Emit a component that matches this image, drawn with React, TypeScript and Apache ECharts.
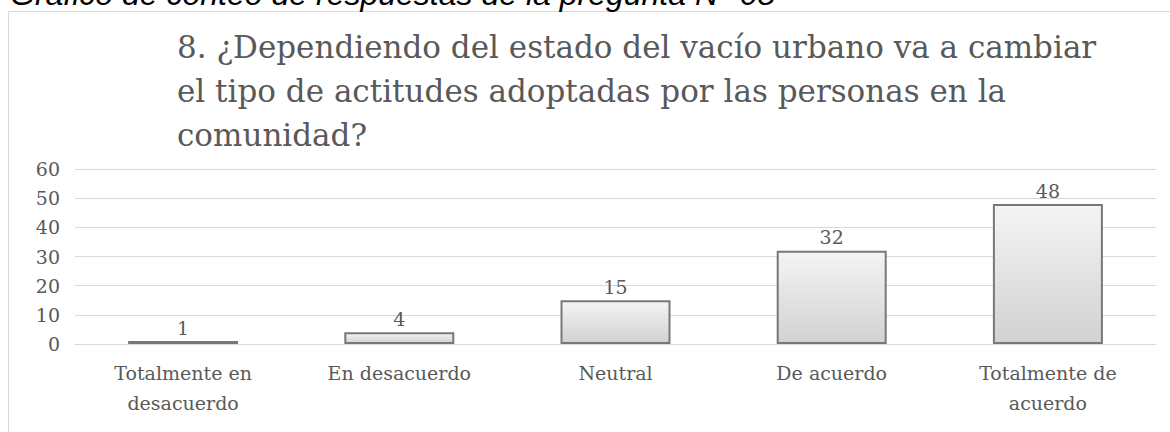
import React, { useEffect, useRef } from "react";
import * as echarts from "echarts";

const caption = "Gráfico de conteo de respuestas de la pregunta N° 08";
const titleLines = [
  "8. ¿Dependiendo del estado del vacío urbano va a cambiar",
  "el tipo de actitudes adoptadas por las personas en la",
  "comunidad?",
];
const categories = [
  "Totalmente en\ndesacuerdo",
  "En desacuerdo",
  "Neutral",
  "De acuerdo",
  "Totalmente de\nacuerdo",
];
const counts = [1, 4, 15, 32, 48];
const yMin = 0;
const yMax = 60;
const yStep = 10;

const SERIF = "'DejaVu Serif', serif";
const GRAY = "#595959";

export default function App() {
  const ref = useRef<HTMLDivElement>(null);
  useEffect(() => {
    if (!ref.current) return;
    const chart = echarts.init(ref.current, null, { renderer: "svg" });
    chart.setOption({
      animation: false,
      backgroundColor: "#ffffff",
      title: {
        text: titleLines.join("\n"),
        left: 172,
        top: 20,
        textStyle: {
          fontFamily: SERIF,
          fontSize: 31,
          lineHeight: 44,
          fontWeight: "normal",
          color: GRAY,
        },
      },
      graphic: [
        {
          type: "rect",
          shape: { x: 8.5, y: 11.5, width: 1200, height: 500 },
          style: { fill: "none", stroke: "#d9d9d9", lineWidth: 1 },
          silent: true,
        },
        {
          type: "text",
          x: 10,
          y: -6,
          style: {
            text: caption,
            font: "italic 32px 'Liberation Sans', Arial, sans-serif",
            fill: "#000000",
            verticalAlign: "middle",
          },
          silent: true,
        },
      ],
      grid: { left: 75, right: 14, top: 169, bottom: 88 },
      xAxis: {
        type: "category",
        data: categories,
        axisLine: { show: true, lineStyle: { color: "#d9d9d9", width: 1 } },
        axisTick: { show: false },
        axisLabel: {
          interval: 0,
          color: GRAY,
          fontFamily: SERIF,
          fontSize: 19,
          lineHeight: 30,
          margin: 14,
        },
      },
      yAxis: {
        type: "value",
        min: yMin,
        max: yMax,
        interval: yStep,
        axisLine: { show: false },
        axisTick: { show: false },
        splitLine: { lineStyle: { color: "#d9d9d9", width: 1 } },
        axisLabel: {
          color: GRAY,
          fontFamily: SERIF,
          fontSize: 19,
          margin: 15,
        },
      },
      series: [
        {
          type: "bar",
          data: counts,
          barWidth: 110,
          itemStyle: {
            color: new echarts.graphic.LinearGradient(0, 0, 0, 1, [
              { offset: 0, color: "#f4f4f4" },
              { offset: 1, color: "#d2d2d2" },
            ]),
            borderColor: "#787878",
            borderWidth: 2,
          },
          label: {
            show: true,
            position: "top",
            distance: 4,
            color: GRAY,
            fontFamily: SERIF,
            fontSize: 19,
          },
        },
      ],
    });
    return () => chart.dispose();
  }, []);
  return (
    <div
      ref={ref}
      style={{ position: "fixed", left: 0, top: 0, width: 1170, height: 432 }}
    />
  );
}
